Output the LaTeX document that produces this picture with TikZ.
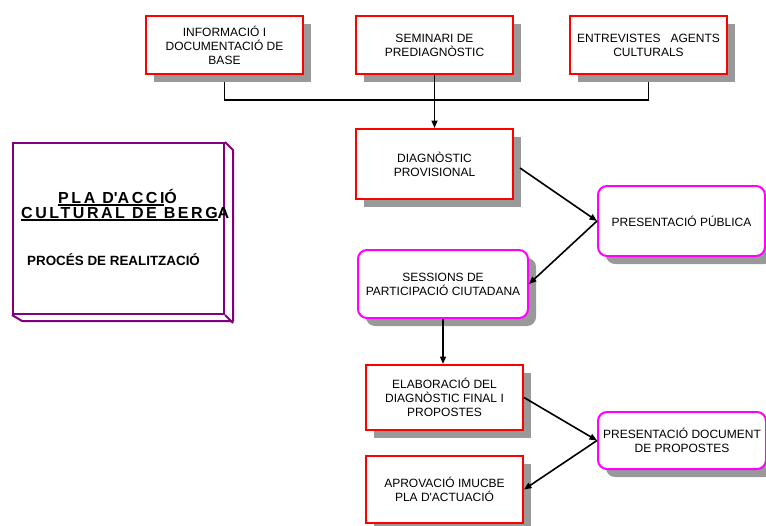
\documentclass[tikz,border=0pt]{standalone}
\usepackage{fontspec}
\setmainfont{Liberation Sans}
\newfontfamily\titlefont{Liberation Sans}[LetterSpace=16]
\usetikzlibrary{shadows,arrows.meta,backgrounds}
\definecolor{boxred}{HTML}{FF0000}
\definecolor{boxmag}{HTML}{FF00FF}
\definecolor{boxpurple}{HTML}{800080}
\definecolor{shadowgray}{HTML}{999999}
\newcommand\myul[1]{\setbox0=\hbox{#1}\rlap{\rule[-2.6pt]{\wd0}{1.4pt}}\box0}
\tikzset{
  boxtext/.style={align=center, font=\fontsize{12}{14}\selectfont, inner sep=0pt, anchor=north west},
  shade8/.style={drop shadow={shadow xshift=8pt, shadow yshift=-8pt, fill=shadowgray, opacity=1}},
  redbox/.style={boxtext, draw=boxred, line width=2pt, fill=white, shade8},
  magbox/.style={boxtext, draw=boxmag, line width=2pt, fill=white, rounded corners=9pt, shade8},
  conn/.style={line width=1.6pt, black},
  arr/.style={conn, -{Triangle[length=7.5pt,width=6pt]}},
  titletext/.style={font=\titlefont\bfseries\fontsize{16}{15}\selectfont, inner sep=0pt, anchor=base west},
}
\begin{document}
\begin{tikzpicture}[x=1pt,y=-1pt]
\useasboundingbox (0,0) rectangle (766,525);
% top row
\node[redbox, minimum width=157, minimum height=58] (b1) at (145,15) {INFORMACIÓ I\\DOCUMENTACIÓ DE\\BASE};
\node[redbox, minimum width=157, minimum height=58] (b2) at (355,15) {SEMINARI DE\\PREDIAGNÒSTIC};
\node[redbox, minimum width=157, minimum height=58] (b3) at (569,15) {ENTREVISTES\ \ \ AGENTS\\CULTURALS};
% second level
\node[redbox, minimum width=157, minimum height=70] (diag) at (355,128) {DIAGNÒSTIC\\PROVISIONAL};
\node[magbox, minimum width=167, minimum height=70] (pp) at (597,185) {PRESENTACIÓ PÚBLICA};
\node[magbox, minimum width=170, minimum height=68] (sess) at (357,249) {SESSIONS DE\\PARTICIPACIÓ CIUTADANA};
\node[redbox, minimum width=157, minimum height=65] (elab) at (365,364) {ELABORACIÓ DEL\\DIAGNÒSTIC FINAL I\\PROPOSTES};
\node[magbox, minimum width=168, minimum height=57] (pd) at (597,411) {PRESENTACIÓ DOCUMENT\\DE PROPOSTES};
\node[redbox, minimum width=157, minimum height=67] (aprov) at (365,455) {APROVACIÓ IMUCBE\\PLA D\textquotesingle ACTUACIÓ};
% bus (under the shadows)
\begin{pgfonlayer}{background}
\coordinate (busy) at (0,100);
\draw[conn] (b1.south) -- (b1.south |- busy) -- (b3.south |- busy) -- (b3.south);
\end{pgfonlayer}
% connectors
\coordinate (dstart) at (520,168);
\draw[arr] (b2.south) -- (diag.north);
\draw[arr] (dstart) -- (pp.west);
\draw[arr] (pp.west) -- (sess.east);
\draw[arr] (sess.south) -- (sess.south |- elab.north);
\draw[arr] (elab.east) -- (pd.west);
\draw[arr] (pd.west) -- (aprov.east);
% title box
\node[draw=boxpurple, line width=2pt, minimum width=211, minimum height=171, anchor=north west, inner sep=0pt] (title) at (12,142) {};
\draw[draw=boxpurple, line width=2pt, line join=round] (title.north east) -- ++(8,8) -- ++(0,171) -- ++(-211,0) -- (title.south west);
\draw[draw=boxpurple, line width=2pt] (title.south east) -- ++(8,8);
\node[titletext] (tl1) at (58,203) {\myul{PLA D\textquotesingle ACCI}Ó};
\node[titletext] (tl2) at (21,218) {\myul{CULTURAL DE BERG}A};
\node[font=\bfseries\fontsize{13.4}{15}\selectfont, inner sep=0pt, anchor=base west] (sub) at (27,265) {PROCÉS DE REALITZACIÓ};
\end{tikzpicture}
\end{document}
